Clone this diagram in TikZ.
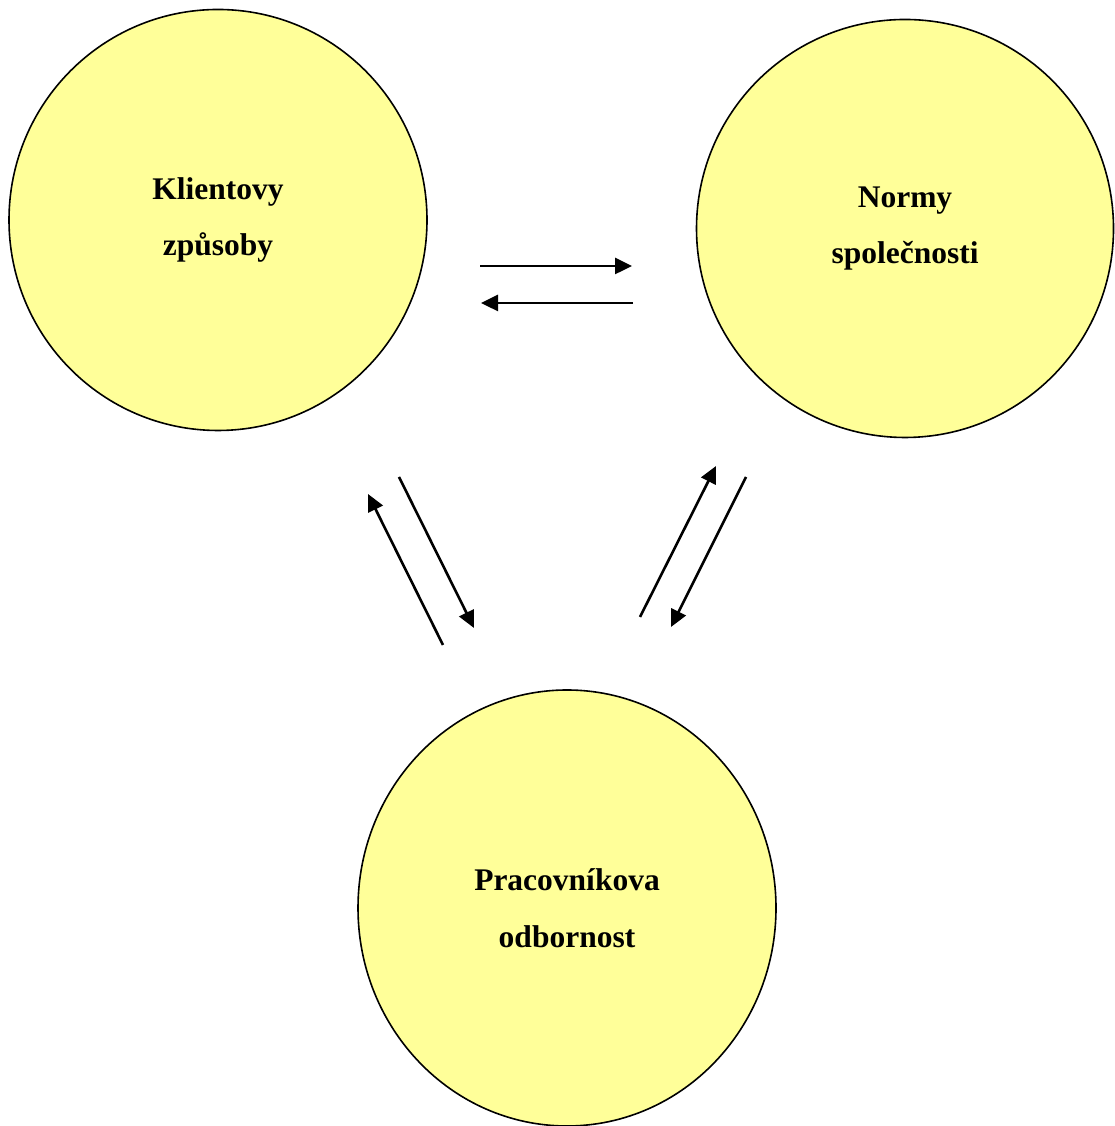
\documentclass[tikz,border=0pt]{standalone}
\usepackage{fontspec}
\setmainfont{Liberation Serif}
\usetikzlibrary{arrows.meta,shapes.geometric}
\definecolor{bubbleColor}{RGB}{255,255,153}
\tikzset{
  bubble/.style={ellipse,draw=black,fill=bubbleColor,line width=1.6pt,
    inner sep=0pt,align=center,font=\bfseries\fontsize{31.5}{56.5}\selectfont},
  flow/.style={line width=2.6pt,-{Triangle[length=17pt,width=16pt]}}
}
\begin{document}
\begin{tikzpicture}[x=1pt,y=1pt]
\path[use as bounding box,fill=white] (0,0) rectangle (1115,1126);

% the three partners
\node[bubble,minimum width=418pt,minimum height=421pt] (client) at (218,906) {Klientovy\\způsoby};
\node[bubble,minimum width=417pt,minimum height=418pt] (society) at (905,897.5) {Normy\\společnosti};
\node[bubble,minimum width=418pt,minimum height=436pt] (worker) at (567,218) {Pracovníkova\\odbornost};

% arrow ends
\coordinate (cs1) at (480,860);  \coordinate (cs2) at (632,860);
\coordinate (sc1) at (633,823);  \coordinate (sc2) at (481,823);
\coordinate (wc1) at (443,481);  \coordinate (wc2) at (368,632);
\coordinate (cw1) at (399,649);  \coordinate (cw2) at (474,498);
\coordinate (ws1) at (640,509);  \coordinate (ws2) at (716,660);
\coordinate (sw1) at (746,649);  \coordinate (sw2) at (671,499);

\draw[flow] (cs1) -- (cs2);
\draw[flow] (sc1) -- (sc2);
\draw[flow] (wc1) -- (wc2);
\draw[flow] (cw1) -- (cw2);
\draw[flow] (ws1) -- (ws2);
\draw[flow] (sw1) -- (sw2);
\end{tikzpicture}
\end{document}
